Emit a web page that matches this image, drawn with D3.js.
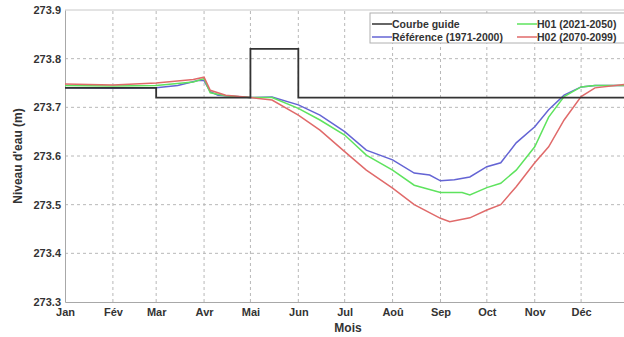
<!DOCTYPE html>
<html>
<head>
<meta charset="utf-8">
<script src="https://cdn.jsdelivr.net/npm/d3@7"></script>
<style>
  body { margin: 0; background: #fff; }
  svg text { font-family: "Liberation Sans", Arial, sans-serif; font-weight: bold; fill: #333; }
</style>
</head>
<body>
<div id="chart"></div>
<script>
var months = ["Jan", "Fév", "Mar", "Avr", "Mai", "Jun", "Jul", "Aoû", "Sep", "Oct", "Nov", "Déc"];
var monthStart = [0, 31, 59, 90, 120, 151, 181, 212, 243, 273, 304, 334];
var yTicks = [273.3, 273.4, 273.5, 273.6, 273.7, 273.8, 273.9];

// [jour de l'année, niveau]
var guide = [[0, 273.74], [59, 273.72], [120, 273.82], [151, 273.72], [365, 273.72]];

var reference = [[0, 273.74], [31, 273.739], [59, 273.74], [73, 273.745], [86, 273.755], [90, 273.755],
  [94, 273.732], [99, 273.725], [120, 273.72], [134, 273.721], [151, 273.705], [165, 273.684],
  [181, 273.65], [195, 273.612], [212, 273.592], [226, 273.565], [236, 273.561], [243, 273.549],
  [252, 273.551], [262, 273.557], [273, 273.578], [282, 273.586], [292, 273.627], [304, 273.66],
  [313, 273.695], [323, 273.725], [334, 273.742], [343, 273.745], [365, 273.745]];

var h01 = [[0, 273.745], [31, 273.744], [59, 273.745], [83, 273.752], [90, 273.759],
  [94, 273.73], [104, 273.724], [120, 273.72], [134, 273.72], [151, 273.698], [165, 273.674],
  [181, 273.643], [195, 273.602], [212, 273.571], [226, 273.54], [243, 273.525], [257, 273.525],
  [262, 273.52], [273, 273.535], [282, 273.544], [292, 273.571], [304, 273.619], [313, 273.68],
  [323, 273.722], [334, 273.742], [343, 273.745], [365, 273.745]];

var h02 = [[0, 273.748], [31, 273.746], [59, 273.75], [83, 273.757], [90, 273.762],
  [94, 273.735], [104, 273.725], [120, 273.72], [134, 273.715], [151, 273.684], [165, 273.653],
  [181, 273.609], [195, 273.571], [212, 273.534], [226, 273.5], [243, 273.472], [249, 273.465],
  [262, 273.473], [273, 273.489], [282, 273.5], [292, 273.537], [304, 273.586], [313, 273.619],
  [323, 273.674], [334, 273.722], [343, 273.74], [365, 273.748]];

var series = [
  { name: "Courbe guide", data: guide, color: "#333333", step: true },
  { name: "Référence (1971-2000)", data: reference, color: "#6464d4" },
  { name: "H01 (2021-2050)", data: h01, color: "#5ee35e" },
  { name: "H02 (2070-2099)", data: h02, color: "#e06a6a" }
];

var W = 624, H = 337;
var margin = { left: 65, top: 10, bottom: 35 };

var svg = d3.select("#chart").append("svg")
  .attr("width", W).attr("height", H);

var x = d3.scaleLinear().domain([0, 365]).range([margin.left, 629]);
var y = d3.scaleLinear().domain([273.3, 273.9]).range([H - margin.bottom, margin.top]);

// grille
svg.append("g").selectAll("line").data(monthStart.slice(1)).enter().append("line")
  .attr("x1", d => x(d)).attr("x2", d => x(d))
  .attr("y1", y(273.3)).attr("y2", y(273.9))
  .attr("stroke", "#b8b8b8").attr("stroke-dasharray", "3,3");
svg.append("g").selectAll("line").data(yTicks.slice(1, -1)).enter().append("line")
  .attr("x1", x(0)).attr("x2", W)
  .attr("y1", d => y(d)).attr("y2", d => y(d))
  .attr("stroke", "#b8b8b8").attr("stroke-dasharray", "3,3");

// cadre
svg.append("line").attr("x1", x(0)).attr("x2", W).attr("y1", y(273.9)).attr("y2", y(273.9))
  .attr("stroke", "#c8c8c8");

var yAxis = svg.append("g")
  .attr("transform", "translate(" + x(0) + ",0)")
  .call(d3.axisLeft(y).tickValues(yTicks).tickFormat(d3.format(".1f")).tickSize(0).tickPadding(4));
var xAxis = svg.append("g")
  .attr("transform", "translate(0," + y(273.3) + ")")
  .call(d3.axisBottom(x).tickValues(monthStart).tickFormat((d, i) => months[i]).tickSize(0).tickPadding(6));
[yAxis, xAxis].forEach(a => {
  a.select(".domain").attr("stroke", "#a8a8a8");
  a.selectAll("text").style("font-size", "11px").attr("fill", "#333");
});

// courbes
var line = d3.line().x(d => x(d[0])).y(d => y(d[1]));
var stepLine = d3.line().x(d => x(d[0])).y(d => y(d[1])).curve(d3.curveStepAfter);

series.slice(1).concat(series.slice(0, 1)).forEach(s => {
  svg.append("path")
    .datum(s.data)
    .attr("fill", "none")
    .attr("stroke", s.color)
    .attr("stroke-width", s.step ? 1.8 : 1.5)
    .attr("d", s.step ? stepLine : line);
});

// titres
svg.append("text")
  .attr("x", 348).attr("y", 332)
  .attr("text-anchor", "middle")
  .style("font-size", "12px")
  .text("Mois");
svg.append("text")
  .attr("transform", "translate(22," + y(273.6) + ") rotate(-90)")
  .attr("text-anchor", "middle")
  .style("font-size", "12px")
  .text("Niveau d'eau (m)");

// légende
var legend = svg.append("g");
legend.append("rect")
  .attr("x", 370).attr("y", 13).attr("width", 256).attr("height", 30)
  .attr("fill", "#fff").attr("stroke", "#b0b0b0");
var legendPos = [[372, 24], [372, 37], [517, 24], [517, 37]];
series.forEach((s, i) => {
  var p = legendPos[i];
  legend.append("line")
    .attr("x1", p[0]).attr("x2", p[0] + 20).attr("y1", p[1]).attr("y2", p[1])
    .attr("stroke", s.color).attr("stroke-width", 1.5);
  legend.append("text")
    .attr("x", p[0] + 20).attr("y", p[1] + 4)
    .style("font-size", "10.5px")
    .text(s.name);
});
</script>
</body>
</html>
